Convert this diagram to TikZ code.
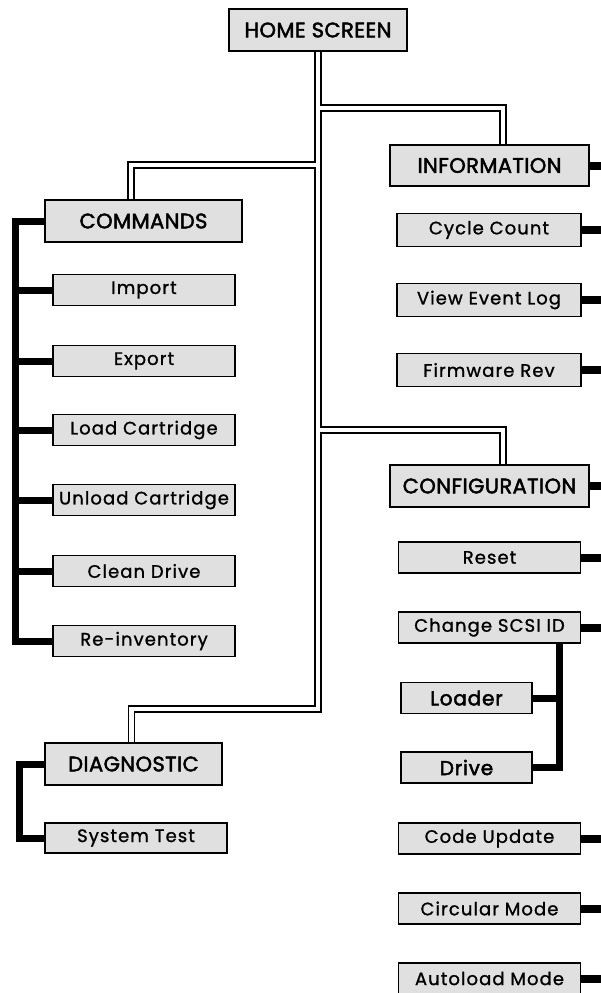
\documentclass[tikz,border=0pt]{standalone}
\usepackage{fontspec}
\setmainfont{Poppins}
\usetikzlibrary{positioning}
\definecolor{boxgray}{HTML}{E0E0E0}

\begin{document}
\begin{tikzpicture}[x=1pt,y=-1pt,
  head/.style={draw,fill=boxgray,line width=1.3pt,minimum height=42pt,inner sep=0pt,
    font=\fontsize{21}{21}\selectfont\addfontfeatures{FakeBold=2.2,LetterSpace=2}},
  item/.style={draw,fill=boxgray,line width=1.3pt,minimum width=182pt,minimum height=31pt,inner sep=0pt,
    font=\fontsize{18}{18}\selectfont\addfontfeatures{FakeBold=1.2,LetterSpace=6}},
  sub/.style={item,minimum width=131pt,font=\fontsize{20}{20}\selectfont\addfontfeatures{FakeBold=2.5,LetterSpace=4}},
  tree/.style={double,line width=1.3pt,double distance=4.5pt},
  bar/.style={line width=7pt}]
  \useasboundingbox (0,0) rectangle (600,993);

  \node[head,minimum width=178pt] (home) at (318,30) {HOME SCREEN};
  \node[head,minimum width=197pt] (cmds) at (143.5,221) {COMMANDS};
  \node[head,minimum width=199pt,minimum height=41pt] (info) at (489.5,165.5) {INFORMATION};
  \node[head,minimum width=199pt] (conf) at (489.5,486) {CONFIGURATION};
  \node[head,minimum width=177pt] (diag) at (133.5,764) {DIAGNOSTIC};

  \foreach \n/\y/\t in {imp/290/Import,exp/361/Export,load/430/Load Cartridge,
      unload/500/Unload Cartridge,clean/571/Clean Drive,reinv/641/Re-inventory}
    \node[item] (\n) at (144,\y) {\t};
  \foreach \n/\y/\t in {cycle/230/Cycle Count,event/300/View Event Log,firm/370/Firmware Rev}
    \node[item,minimum width=184pt,minimum height=33pt] (\n) at (489,\y) {\t};
  \foreach \n/\y/\t in {reset/557.5/Reset,scsi/627.5/Change SCSI ID,code/838.5/Code Update,
      circ/908.5/Circular Mode,auto/978.5/Autoload Mode}
    \node[item] (\n) at (489.5,\y) {\t};
  \node[sub] (loader) at (466.5,698) {Loader};
  \node[sub] (drive) at (466.5,767.5) {Drive};
  \node[item,minimum height=30pt] (sys) at (136,838) {System Test};

  \coordinate (tinfo) at (318,108);
  \coordinate (tcmds) at (318,165);
  \coordinate (tconf) at (318,430);
  \coordinate (tdiag) at (318,709);
  \draw[tree] (home.south) -- (tdiag) -| ([xshift=-2pt]diag.north)
    (tinfo) -| ([xshift=13.5pt]info.north)
    (tcmds) -| ([xshift=-12.5pt]cmds.north)
    (tconf) -| ([xshift=13.5pt]conf.north);

  \coordinate (cbar) at (15.5,0);
  \coordinate (dbar) at (19,0);
  \coordinate (sbar) at (559,0);
  \coordinate (redge) at (606,0);
  \draw[bar] (cmds.west) -| (reinv.west -| cbar) -- (reinv.west);
  \foreach \n in {imp,exp,load,unload,clean}
    \draw[bar] (\n.west) -- (\n.west -| cbar);
  \draw[bar] (diag.west) -| (sys.west -| dbar) -- (sys.west);
  \foreach \n in {info,cycle,event,firm,conf,reset,scsi,code,circ,auto}
    \draw[bar,line width=8pt] (\n.east) -- (\n.east -| redge);
  \draw[bar] (scsi.south -| sbar) |- (drive.east);
  \draw[bar] (loader.east) -- (loader.east -| sbar);
\end{tikzpicture}
\end{document}
